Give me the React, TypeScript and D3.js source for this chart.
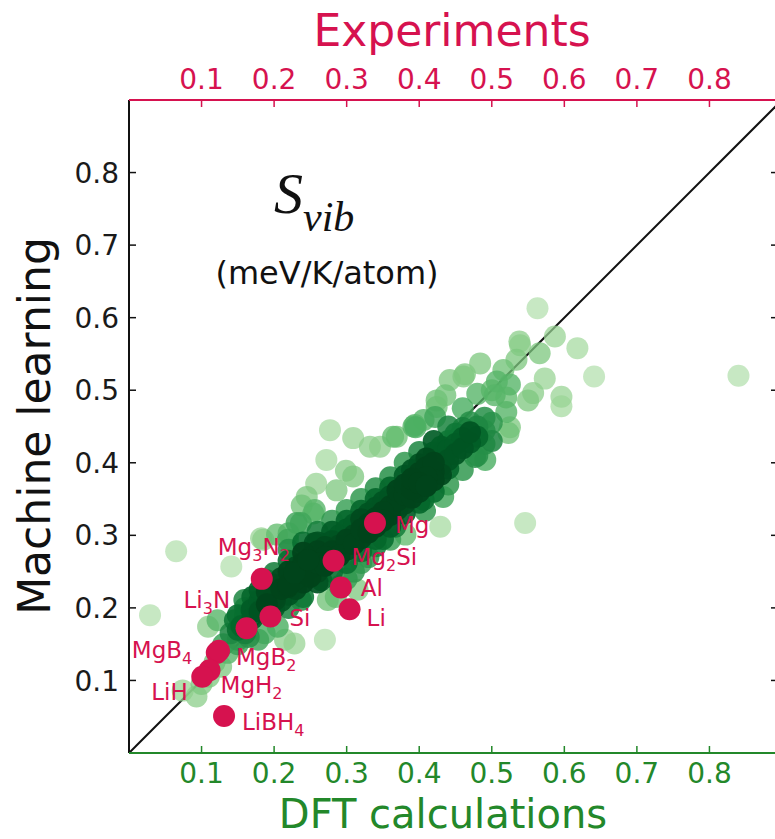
import React from 'react';
import * as d3 from 'd3';

// ---------- data ----------
const xTickValues = [0.1, 0.2, 0.3, 0.4, 0.5, 0.6, 0.7, 0.8];
const yTickValues = [0.1, 0.2, 0.3, 0.4, 0.5, 0.6, 0.7, 0.8];

// DFT (x) vs Machine learning (y) predictions
const dftMlPairs: [number, number][] = [
  // sparse / outlying
  [0.840, 0.520], [0.546, 0.317], [0.029, 0.190], [0.065, 0.278],
  [0.563, 0.613], [0.587, 0.574], [0.618, 0.558], [0.641, 0.519], [0.596, 0.491], [0.596, 0.478],
  [0.566, 0.551], [0.539, 0.562], [0.573, 0.516], [0.557, 0.496], [0.550, 0.486], [0.523, 0.441],
  [0.534, 0.542], [0.516, 0.528], [0.507, 0.512], [0.491, 0.404],
  [0.141, 0.257], [0.109, 0.174], [0.228, 0.151], [0.270, 0.156], [0.182, 0.296], [0.159, 0.211],
  [0.093, 0.078], [0.074, 0.086], [0.122, 0.183],
  [0.277, 0.445], [0.272, 0.404], [0.309, 0.434], [0.332, 0.422], [0.364, 0.436], [0.394, 0.452],
  [0.424, 0.477], [0.286, 0.362], [0.309, 0.381], [0.245, 0.353], [0.254, 0.330], [0.231, 0.317],
  [0.220, 0.303], [0.185, 0.294], [0.429, 0.312], [0.406, 0.349], [0.433, 0.353], [0.360, 0.294],
  [0.299, 0.389], [0.238, 0.341], [0.204, 0.301], [0.381, 0.301], [0.408, 0.334], [0.477, 0.408],
  [0.490, 0.426], [0.525, 0.449], [0.525, 0.508], [0.504, 0.493], [0.484, 0.537], [0.463, 0.522],
  [0.436, 0.493], [0.422, 0.463], [0.395, 0.449], [0.538, 0.567], [0.367, 0.312], [0.258, 0.371],
  [0.442, 0.514], [0.461, 0.519], [0.406, 0.459], [0.392, 0.450], [0.369, 0.436],
  [0.346, 0.422], [0.424, 0.486],
  // lower-left band
  [0.127, 0.119], [0.136, 0.138], [0.150, 0.156], [0.146, 0.183], [0.169, 0.197], [0.187, 0.165],
  [0.178, 0.156], [0.205, 0.174], [0.215, 0.156], [0.201, 0.211], [0.219, 0.229], [0.237, 0.211],
  [0.228, 0.248], [0.247, 0.266], [0.256, 0.289], [0.265, 0.238], [0.274, 0.211], [0.219, 0.294],
  [0.237, 0.317], [0.256, 0.335],
  [0.100, 0.095], [0.110, 0.105], [0.118, 0.125], [0.130, 0.150], [0.140, 0.165], [0.155, 0.175],
  [0.160, 0.190], [0.165, 0.160],
  [0.300, 0.240], [0.310, 0.250], [0.320, 0.262], [0.290, 0.230], [0.330, 0.270], [0.340, 0.285],
  [0.350, 0.295], [0.315, 0.225], [0.285, 0.215],
  // medium band
  [0.150, 0.170], [0.150, 0.190], [0.150, 0.150], [0.160, 0.200], [0.160, 0.165],
  [0.220, 0.280], [0.220, 0.200], [0.240, 0.290], [0.240, 0.215], [0.260, 0.305], [0.260, 0.235],
  [0.280, 0.320], [0.280, 0.250], [0.300, 0.335], [0.300, 0.262], [0.320, 0.350], [0.320, 0.278],
  [0.340, 0.365], [0.340, 0.295], [0.360, 0.380], [0.360, 0.312], [0.380, 0.400], [0.380, 0.330],
  [0.400, 0.415], [0.400, 0.345], [0.420, 0.430], [0.420, 0.360], [0.440, 0.450], [0.440, 0.370],
  [0.460, 0.475], [0.460, 0.390], [0.480, 0.495], [0.480, 0.410], [0.500, 0.500], [0.500, 0.430],
  [0.520, 0.470], [0.520, 0.490],
  // dense core
  [0.170, 0.200], [0.170, 0.215], [0.170, 0.185],
  [0.180, 0.210], [0.180, 0.225], [0.180, 0.195],
  [0.190, 0.205], [0.190, 0.222], [0.190, 0.238],
  [0.200, 0.215], [0.200, 0.232], [0.200, 0.200], [0.200, 0.248],
  [0.210, 0.226], [0.210, 0.241], [0.210, 0.210],
  [0.220, 0.232], [0.220, 0.250], [0.220, 0.218], [0.220, 0.265],
  [0.230, 0.240], [0.230, 0.256], [0.230, 0.226],
  [0.240, 0.248], [0.240, 0.262], [0.240, 0.235], [0.240, 0.276],
  [0.250, 0.255], [0.250, 0.270], [0.250, 0.243],
  [0.260, 0.262], [0.260, 0.278], [0.260, 0.250], [0.260, 0.290],
  [0.270, 0.270], [0.270, 0.284], [0.270, 0.258],
  [0.280, 0.278], [0.280, 0.292], [0.280, 0.266], [0.280, 0.305],
  [0.290, 0.286], [0.290, 0.300], [0.290, 0.272],
  [0.300, 0.294], [0.300, 0.308], [0.300, 0.280], [0.300, 0.320],
  [0.310, 0.300], [0.310, 0.315], [0.310, 0.288],
  [0.320, 0.308], [0.320, 0.322], [0.320, 0.296], [0.320, 0.334],
  [0.330, 0.316], [0.330, 0.330], [0.330, 0.304],
  [0.340, 0.324], [0.340, 0.338], [0.340, 0.312], [0.340, 0.350],
  [0.350, 0.332], [0.350, 0.346], [0.350, 0.320],
  [0.360, 0.340], [0.360, 0.354], [0.360, 0.328], [0.360, 0.366],
  [0.370, 0.348], [0.370, 0.362], [0.370, 0.336],
  [0.380, 0.356], [0.380, 0.370], [0.380, 0.344], [0.380, 0.382],
  [0.390, 0.364], [0.390, 0.378], [0.390, 0.352], [0.390, 0.390],
  [0.400, 0.372], [0.400, 0.386], [0.400, 0.398], [0.400, 0.360],
  [0.410, 0.380], [0.410, 0.394], [0.410, 0.406], [0.410, 0.368],
  [0.420, 0.388], [0.420, 0.400], [0.420, 0.414], [0.420, 0.376],
  [0.430, 0.396], [0.430, 0.410], [0.430, 0.422], [0.430, 0.384],
  [0.440, 0.404], [0.440, 0.418], [0.440, 0.430], [0.440, 0.392],
  [0.450, 0.412], [0.450, 0.426], [0.450, 0.440],
  [0.460, 0.420], [0.460, 0.434], [0.460, 0.448],
  [0.470, 0.428], [0.470, 0.442], [0.470, 0.456],
  [0.480, 0.436], [0.480, 0.450],
  [0.490, 0.444], [0.490, 0.462],
  [0.500, 0.455],
];

// Experiments (x) vs Machine learning (y)
const materialNames = ['Mg', 'Mg2Si', 'Al', 'Li', 'Mg3N2', 'Si', 'Li3N', 'MgB4', 'MgB2', 'MgH2', 'LiH', 'LiBH4'];
const experimentValues = [0.339, 0.282, 0.292, 0.304, 0.183, 0.195, 0.162, 0.121, 0.124, 0.111, 0.101, 0.131];
const mlValues = [0.317, 0.265, 0.228, 0.198, 0.240, 0.188, 0.172, 0.138, 0.141, 0.114, 0.105, 0.051];

// ---------- layout ----------
const W = 775;
const H = 839;
const PLOT_L = 129;
const PLOT_T = 100;
const PLOT_SIZE = 653;
const PINK = '#d6124f';
const GREEN = '#23882a';
const FONT = '"DejaVu Sans", Verdana, sans-serif';

const labelOffsets: Record<string, [number, number]> = {
  Mg: [20, 10], Mg2Si: [18, 4], Al: [20, 8], Li: [17, 17], Mg3N2: [-44, -24], Si: [19, 9],
  Li3N: [-63, -20], MgB4: [-85, 5], MgB2: [17, 14], MgH2: [11, 23], LiH: [-51, 23], LiBH4: [18, 14],
};

function SubLabel({ text, x, y }: { text: string; x: number; y: number }) {
  const parts = text.match(/[0-9]+|[^0-9]+/g) || [];
  let shifted = false;
  return (
    <text x={x} y={y} fill={PINK} fontFamily={FONT} fontSize={23}>
      {parts.map((p, i) => {
        const isSub = /^[0-9]+$/.test(p);
        let dy = 0;
        if (isSub && !shifted) { dy = 6; shifted = true; }
        else if (!isSub && shifted) { dy = -6; shifted = false; }
        return (
          <tspan key={i} dy={dy} fontSize={isSub ? 16 : 23}>{p}</tspan>
        );
      })}
    </text>
  );
}

export default function App() {
  const x = d3.scaleLinear().domain([0, 0.9]).range([PLOT_L, PLOT_L + PLOT_SIZE]);
  const y = d3.scaleLinear().domain([0, 0.9]).range([PLOT_T + PLOT_SIZE, PLOT_T]);
  const bottom = PLOT_T + PLOT_SIZE;
  const right = PLOT_L + PLOT_SIZE;

  const counts = dftMlPairs.map((p) =>
    dftMlPairs.filter((q) => Math.hypot(q[0] - p[0], q[1] - p[1]) < 0.035).length
  );
  const maxCount = d3.max(counts) || 1;
  const pts = dftMlPairs
    .map((p, i) => ({ p, c: counts[i] / maxCount }))
    .sort((a, b) => a.c - b.c);
  const color = (t: number) => d3.interpolateGreens(Math.min(1, 0.28 + 0.85 * Math.pow(t, 0.9)));

  const fmt = d3.format('.1f');

  return (
    <svg width={W} height={H} style={{ position: 'absolute', left: 0, top: 0, background: '#fff' }}>
      <rect x={0} y={0} width={W} height={H} fill="#fff" />
      {/* diagonal */}
      <line x1={x(0)} y1={y(0)} x2={x(0.9)} y2={y(0.9)} stroke="#111" strokeWidth={2} />

      {/* green density scatter */}
      <g>
        {pts.map((d, i) => (
          <circle key={i} cx={x(d.p[0])} cy={y(d.p[1])} r={11} fill={color(d.c)} fillOpacity={0.7 + 0.3 * d.c} />
        ))}
      </g>

      {/* spines */}
      <line x1={PLOT_L} y1={PLOT_T} x2={PLOT_L} y2={bottom} stroke="#111" strokeWidth={2} />
      <line x1={PLOT_L} y1={PLOT_T} x2={W} y2={PLOT_T} stroke={PINK} strokeWidth={2} />
      <line x1={PLOT_L} y1={bottom} x2={W} y2={bottom} stroke={GREEN} strokeWidth={2} />

      {/* bottom axis */}
      {xTickValues.map((v) => (
        <g key={'b' + v}>
          <line x1={x(v)} x2={x(v)} y1={bottom} y2={bottom - 7} stroke={GREEN} strokeWidth={1.5} />
          <text x={x(v)} y={bottom + 30} textAnchor="middle" fill={GREEN} fontFamily={FONT} fontSize={28}>{fmt(v)}</text>
        </g>
      ))}
      {/* top axis */}
      {xTickValues.map((v) => (
        <g key={'t' + v}>
          <line x1={x(v)} x2={x(v)} y1={PLOT_T} y2={PLOT_T + 7} stroke={PINK} strokeWidth={1.5} />
          <text x={x(v)} y={PLOT_T - 11} textAnchor="middle" fill={PINK} fontFamily={FONT} fontSize={28}>{fmt(v)}</text>
        </g>
      ))}
      {/* left / right axis */}
      {yTickValues.map((v) => (
        <g key={'l' + v}>
          <line x1={PLOT_L} x2={PLOT_L + 7} y1={y(v)} y2={y(v)} stroke="#111" strokeWidth={1.5} />
          <line x1={right} x2={right - 11} y1={y(v)} y2={y(v)} stroke="#111" strokeWidth={1.5} />
          <text x={PLOT_L - 10} y={y(v)} dy="0.36em" textAnchor="end" fill="#1a1a1a" fontFamily={FONT} fontSize={28}>{fmt(v)}</text>
        </g>
      ))}

      {/* axis titles */}
      <text x={443} y={828} textAnchor="middle" fill={GREEN} fontFamily={FONT} fontSize={40}>DFT calculations</text>
      <text x={452} y={46} textAnchor="middle" fill={PINK} fontFamily={FONT} fontSize={44}>Experiments</text>
      <text transform="translate(50,426) rotate(-90)" textAnchor="middle" fill="#111" fontFamily={FONT} fontSize={44}>Machine learning</text>

      {/* in-plot title */}
      <text x={274} y={213} fontFamily='"Liberation Serif", "DejaVu Serif", serif' fontStyle="italic" fontSize={58} fill="#111">
        S<tspan dy={18} fontSize={42}>vib</tspan>
      </text>
      <text x={327} y={284} textAnchor="middle" fontFamily={FONT} fontSize={32} fill="#111">(meV/K/atom)</text>

      {/* experimental points */}
      {materialNames.map((n, i) => (
        <circle key={'e' + n} cx={x(experimentValues[i])} cy={y(mlValues[i])} r={11} fill={PINK} />
      ))}
      {materialNames.map((n, i) => {
        const [dx, dy] = labelOffsets[n];
        return <SubLabel key={'lab' + n} text={n} x={x(experimentValues[i]) + dx} y={y(mlValues[i]) + dy} />;
      })}
    </svg>
  );
}
